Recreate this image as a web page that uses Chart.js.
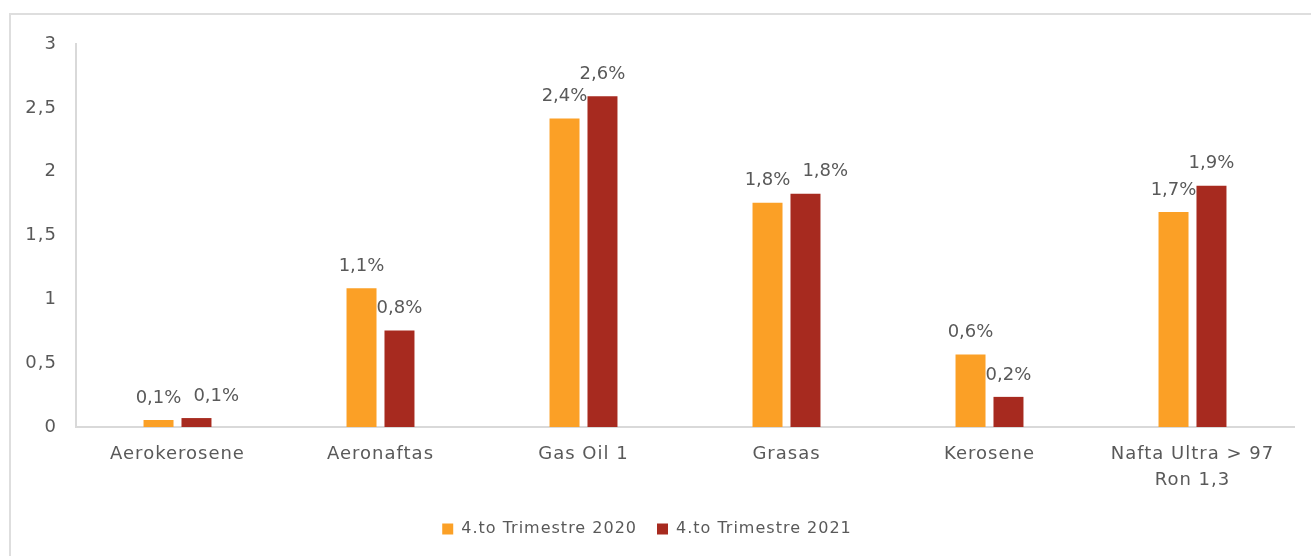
<!DOCTYPE html>
<html>
<head>
<meta charset="utf-8">
<script src="https://cdn.jsdelivr.net/npm/chart.js@4/dist/chart.umd.min.js"></script>
<style>
  html, body { margin: 0; padding: 0; background: #fff; overflow: hidden; }
  #marco { position: absolute; left: 9px; top: 13px; width: 1400px; height: 600px; border: 2px solid #dedede; }
  #caja { position: absolute; left: 0; top: 0; width: 1311px; height: 556px; }
</style>
</head>
<body>
<div id="marco"></div>
<div id="caja"><canvas id="grafico"></canvas></div>
<script>
const categorias = ['Aerokerosene', 'Aeronaftas', 'Gas Oil 1', 'Grasas', 'Kerosene', ['Nafta Ultra > 97', 'Ron 1,3']];
const serie2020 = [0.055, 1.087, 2.417, 1.756, 0.567, 1.685];
const serie2021 = [0.07, 0.756, 2.59, 1.827, 0.236, 1.89];
const nombres = ['4.to Trimestre 2020', '4.to Trimestre 2021'];
const ticksY = [0, 0.5, 1, 1.5, 2, 2.5, 3];

const FUENTE = 'DejaVu Sans';
const GRIS = '#595959';
const ESPACIADO = '1px'; // la fuente original es mas ancha

function coma(v, dec) {
    return (dec == null ? String(v) : v.toFixed(dec)).replace('.', ',');
}

// el resize del canvas borra el estado del contexto, asi que se vuelve a poner
const espaciadoPlugin = {
    id: 'espaciado',
    beforeUpdate(chart) { chart.ctx.letterSpacing = ESPACIADO; },
    beforeDraw(chart) { chart.ctx.letterSpacing = ESPACIADO; }
};

// Etiquetas de datos encima de las barras (estilo Excel, se separan si chocan)
const etiquetasPlugin = {
    id: 'etiquetas',
    afterDatasetsDraw(chart) {
        const ctx = chart.ctx;
        ctx.save();
        ctx.letterSpacing = '0px';
        ctx.font = '18px "' + FUENTE + '"';
        ctx.fillStyle = GRIS;
        ctx.textAlign = 'center';
        ctx.textBaseline = 'middle';
        const m0 = chart.getDatasetMeta(0).data;
        const m1 = chart.getDatasetMeta(1).data;
        const d0 = chart.data.datasets[0].data;
        const d1 = chart.data.datasets[1].data;
        for (let i = 0; i < m0.length; i++) {
            const t0 = coma(d0[i], 1) + '%';
            const t1 = coma(d1[i], 1) + '%';
            const w0 = ctx.measureText(t0).width;
            const w1 = ctx.measureText(t1).width;
            let x0 = m0[i].x, y0 = m0[i].y - 22;
            let x1 = m1[i].x, y1 = m1[i].y - 22;
            const choque = Math.abs(y0 - y1) < 20 && (x1 - w1 / 2) < (x0 + w0 / 2);
            if (choque) {
                x1 = x0 + w0 / 2 + 12 + w1 / 2;
            }
            ctx.fillText(t0, x0, y0);
            ctx.fillText(t1, x1, y1);
        }
        ctx.restore();
    }
};

const ctx = document.getElementById('grafico').getContext('2d');
new Chart(ctx, {
    type: 'bar',
    data: {
        labels: categorias,
        datasets: [
            { label: nombres[0], data: serie2020, backgroundColor: '#FBA026', categoryPercentage: 0.374, barPercentage: 0.79 },
            { label: nombres[1], data: serie2021, backgroundColor: '#A72A1F', categoryPercentage: 0.374, barPercentage: 0.79 }
        ]
    },
    options: {
        responsive: true,
        maintainAspectRatio: false,
        animation: false,
        layout: { padding: { left: 0, right: 17, top: 44, bottom: 9 } },
        scales: {
            y: {
                min: 0, max: 3,
                afterBuildTicks: s => { s.ticks = ticksY.map(v => ({ value: v })); },
                afterFit: s => { s.width = 76; },
                grid: { display: false, drawTicks: false },
                border: { display: true, color: '#d9d9d9', width: 2 },
                ticks: { color: GRIS, padding: 19, font: { family: FUENTE, size: 18 }, callback: v => coma(v) }
            },
            x: {
                afterFit: s => { s.height = 74; },
                grid: { display: false, drawTicks: false },
                border: { display: true, color: '#d9d9d9', width: 2 },
                ticks: { color: GRIS, padding: 14, maxRotation: 0, autoSkip: false, font: { family: FUENTE, size: 18, lineHeight: 1.45 } }
            }
        },
        plugins: {
            legend: {
                position: 'bottom',
                labels: { color: GRIS, boxWidth: 11, boxHeight: 11, padding: 20, font: { family: FUENTE, size: 16 } }
            },
            tooltip: { enabled: false }
        }
    },
    plugins: [espaciadoPlugin, etiquetasPlugin]
});
</script>
</body>
</html>
